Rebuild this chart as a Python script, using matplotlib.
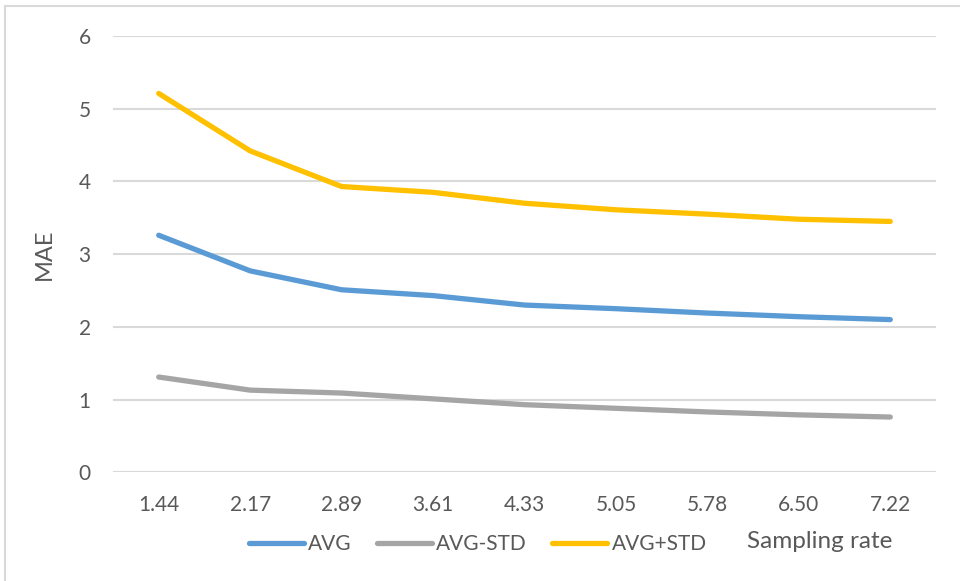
import matplotlib
matplotlib.use("Agg")
import matplotlib.pyplot as plt
from matplotlib.patches import Rectangle

# Sampling rates (category axis) and MAE series
sampling_rates = ["1.44", "2.17", "2.89", "3.61", "4.33", "5.05", "5.78", "6.50", "7.22"]
avg = [3.26, 2.77, 2.51, 2.43, 2.30, 2.25, 2.19, 2.14, 2.10]
avg_minus_std = [1.31, 1.13, 1.09, 1.01, 0.93, 0.88, 0.83, 0.79, 0.76]
avg_plus_std = [5.21, 4.42, 3.93, 3.85, 3.70, 3.61, 3.55, 3.48, 3.45]
y_ticks = [0, 1, 2, 3, 4, 5, 6]

plt.rcParams["font.family"] = ["Lato", "DejaVu Sans"]
TEXT = "#595959"
GRID = "#D9D9D9"

W, H = 960, 581
fig = plt.figure(figsize=(W / 100, H / 100), dpi=100)
fig.patch.set_facecolor("white")

# Chart area outline
fig.patches.append(Rectangle((5 / W, -0.05), 1.2, 1 - 6 / H + 0.05,
                             transform=fig.transFigure, fill=False,
                             edgecolor=GRID, linewidth=1.5))

left, right, top, bottom = 113 / W, 936 / W, 36 / H, 472.3 / H
ax = fig.add_axes([left, 1 - bottom, right - left, bottom - top])

x = list(range(len(sampling_rates)))
lw = 3.8
ax.plot(x, avg, color="#5B9BD5", lw=lw, solid_capstyle="round",
        solid_joinstyle="round", label="AVG", zorder=3)
ax.plot(x, avg_minus_std, color="#A5A5A5", lw=lw, solid_capstyle="round",
        solid_joinstyle="round", label="AVG-STD", zorder=3)
ax.plot(x, avg_plus_std, color="#FFC000", lw=lw, solid_capstyle="round",
        solid_joinstyle="round", label="AVG+STD", zorder=3)

ax.set_xlim(-0.5, len(sampling_rates) - 0.5)
ax.set_ylim(0, 6)
ax.set_yticks(y_ticks)
ax.set_xticks(x)
ax.set_xticklabels(sampling_rates)
ax.grid(axis="y", color=GRID, lw=1.5, zorder=0)
ax.set_axisbelow(True)
for s in ax.spines.values():
    s.set_visible(False)
ax.tick_params(axis="both", length=0, labelsize=15, colors=TEXT)
ax.tick_params(axis="x", pad=16)
ax.tick_params(axis="y", pad=16)

ax.set_ylabel("MAE", fontsize=17, color=TEXT)
ax.yaxis.set_label_coords(-0.0705, 0.5)

leg = fig.legend(loc="center left", bbox_to_anchor=(249 / W, 1 - 544 / H),
                 ncol=3, frameon=False, fontsize=15, handlelength=2.65,
                 handletextpad=0.2, columnspacing=1.2, borderpad=0,
                 borderaxespad=0)
for t in leg.get_texts():
    t.set_color(TEXT)

fig.text(747 / W, 1 - 541 / H, "Sampling rate", fontsize=17.5, color=TEXT,
         ha="left", va="center")

fig.savefig("out.png", dpi=100)
